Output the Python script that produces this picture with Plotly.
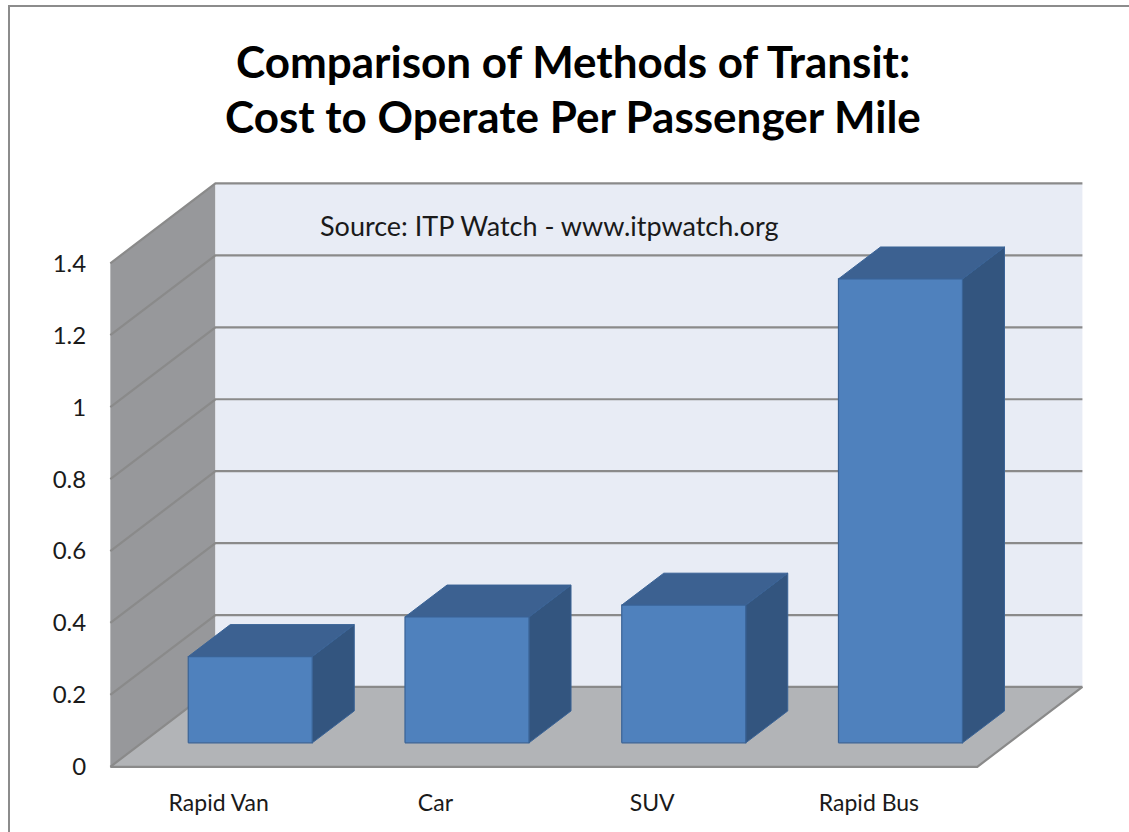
import plotly.graph_objects as go

# ---- data ----
categories = ["Rapid Van", "Car", "SUV", "Rapid Bus"]
values = [0.24, 0.35, 0.383, 1.29]
y_ticks = [0, 0.2, 0.4, 0.6, 0.8, 1, 1.2, 1.4]
y_tick_labels = ["0", "0.2", "0.4", "0.6", "0.8", "1", "1.2", "1.4"]
title_lines = ["Comparison of Methods of Transit:", "Cost to Operate Per Passenger Mile"]
source_text = "Source: ITP Watch - www.itpwatch.org"

# ---- 3D oblique projection parameters ----
DX = 0.485   # depth offset in category units
DY = 0.222   # depth offset in value units
F0, F1 = 0.30, 0.70   # bar front/back depth fraction
HW = 0.286   # half bar width
YMAX = y_ticks[-1]
X0, X1 = -0.5, len(categories) - 0.5

WALL_BACK = "#E8ECF5"
WALL_SIDE = "#97989B"
FLOOR = "#B2B4B7"
GRID = "#8A8A8A"
FRONT = "#4F81BD"
TOP = "#3C6191"
SIDE = "#33557F"
EDGE = "#3A6396"

fig = go.Figure()


def poly(xs, ys, fill, line_color=None, width=0):
    fig.add_trace(go.Scatter(
        x=xs + [xs[0]], y=ys + [ys[0]], mode="lines", fill="toself",
        fillcolor=fill, line=dict(color=line_color or fill, width=width),
        hoverinfo="skip", showlegend=False))


def seg(xs, ys, color=GRID, width=2.2):
    fig.add_trace(go.Scatter(x=xs, y=ys, mode="lines",
                             line=dict(color=color, width=width),
                             hoverinfo="skip", showlegend=False))


# walls and floor
poly([X0, X0 + DX, X0 + DX, X0], [0, DY, YMAX + DY, YMAX], WALL_SIDE)
poly([X0 + DX, X1 + DX, X1 + DX, X0 + DX], [DY, DY, YMAX + DY, YMAX + DY], WALL_BACK)
poly([X0, X1, X1 + DX, X0 + DX], [0, 0, DY, DY], FLOOR)

# gridlines on back wall and side wall
for v in y_ticks:
    seg([X0, X0 + DX, X1 + DX], [v, v + DY, v + DY])
# floor edges
seg([X0, X1, X1 + DX], [0, 0, DY])

# bars
for i, v in enumerate(values):
    xl0, xr0 = i - HW + F0 * DX, i + HW + F0 * DX
    xl1, xr1 = i - HW + F1 * DX, i + HW + F1 * DX
    b0, b1 = F0 * DY, F1 * DY
    # side face
    poly([xr0, xr1, xr1, xr0], [b0, b1, v + b1, v + b0], SIDE, EDGE, 1)
    # top face
    poly([xl0, xr0, xr1, xl1], [v + b0, v + b0, v + b1, v + b1], TOP, EDGE, 1)
    # front face
    poly([xl0, xr0, xr0, xl0], [b0, b0, v + b0, v + b0], FRONT, EDGE, 1.2)

# ---- layout ----
L, R, T, B = 106, 39, 177, 58
W, H = 1129, 832
xr = [-0.52, 4.02]
yr = [-0.02, 1.64]

FONT = "Lato, Calibri, sans-serif"

fig.update_layout(
    width=W, height=H,
    margin=dict(l=L, r=R, t=T, b=B),
    paper_bgcolor="white", plot_bgcolor="white",
    font=dict(family=FONT, color="#1a1a1a"),
    xaxis=dict(range=xr, tickmode="array", tickvals=list(range(len(categories))),
               ticktext=categories, showgrid=False, zeroline=False, showline=False,
               ticks="outside", ticklen=8, tickcolor="rgba(0,0,0,0)",
               tickfont=dict(size=23, color="#1a1a1a"), fixedrange=True),
    yaxis=dict(range=yr, tickmode="array", tickvals=y_ticks, ticktext=y_tick_labels,
               showgrid=False, zeroline=False, showline=False,
               ticks="outside", ticklen=14, tickcolor="rgba(0,0,0,0)",
               tickfont=dict(size=24, color="#1a1a1a"), fixedrange=True),
    showlegend=False,
)

ph = H - T - B
pw = W - L - R


def py(pix):
    return (H - B - pix) / ph


def px(pix):
    return (pix - L) / pw


for txt, ypix in zip(title_lines, [61, 116]):
    fig.add_annotation(text="<b>" + txt + "</b>", xref="paper", yref="paper",
                       x=px(573), y=py(ypix), xanchor="center", yanchor="middle",
                       showarrow=False, font=dict(size=44, color="black", family=FONT))

fig.add_annotation(text=source_text, xref="paper", yref="paper",
                   x=px(318), y=py(225), xanchor="left", yanchor="middle",
                   showarrow=False, font=dict(size=27, color="#1a1a1a"))

# outer chart border
fig.add_shape(type="rect", xref="paper", yref="paper",
              x0=px(9), x1=px(1150), y0=py(860), y1=py(6),
              line=dict(color="#8C8C8C", width=2), fillcolor="rgba(0,0,0,0)", layer="below")

fig.write_html("out.html", config={"displayModeBar": False},
               post_script="document.body.style.margin='0';document.body.style.overflow='hidden';")
